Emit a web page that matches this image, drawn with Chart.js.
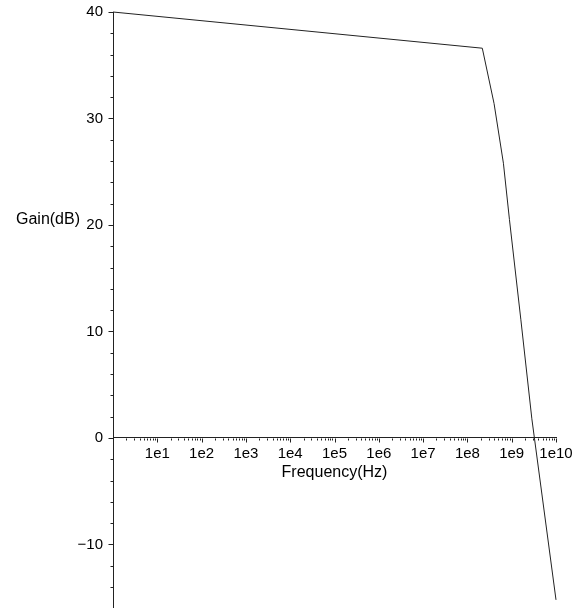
<!DOCTYPE html>
<html>
<head>
<meta charset="utf-8">
<script src="https://cdn.jsdelivr.net/npm/chart.js@4/dist/chart.umd.min.js"></script>
<style>
html,body{margin:0;padding:0;background:#ffffff;}
canvas{display:block;}
</style>
</head>
<body>
<canvas id="c" width="583" height="613"></canvas>
<script>
// ---- data ----
const frequencies = [1, 2.17e8, 4.0e8, 6.5e8, 8.9e8, 1.61e9, 2.85e9, 1e10];
const gains       = [40, 36.6, 31.4, 25.8, 20.5, 11.1, 1.8, -15.2];

// ---- axis ticks ----
const xTickExponents = [0, 1, 2, 3, 4, 5, 6, 7, 8, 9, 10];
const yTickValues = [-14, -12, -10, -8, -6, -4, -2, 0, 2, 4, 6, 8, 10, 12, 14, 16, 18, 20,
                     22, 24, 26, 28, 30, 32, 34, 36, 38, 40];
const yLabeledValues = [-10, 0, 10, 20, 30, 40];
const xAxisTitle = 'Frequency(Hz)';
const yAxisTitle = 'Gain(dB)';

const FONT = "'Liberation Sans', Arial, Helvetica, sans-serif";

function isPowerOfTen(v) {
  const e = Math.round(Math.log10(v));
  return Math.abs(v - Math.pow(10, e)) < 1e-6 * v ? e : null;
}

const tickMarks = {
  id: 'tickMarks',
  afterDraw(chart) {
    const ctx = chart.ctx;
    const xs = chart.scales.x, ys = chart.scales.y;
    const y0 = Math.round(ys.getPixelForValue(0)) + 0.5;
    const x0 = Math.round(chart.chartArea.left) + 0.5;
    ctx.save();
    ctx.strokeStyle = '#222';
    ctx.lineWidth = 1;
    ctx.beginPath();
    xs.ticks.forEach(t => {
      const px = Math.round(xs.getPixelForValue(t.value)) + 0.5;
      const len = isPowerOfTen(t.value) !== null ? 4 : 2;
      ctx.moveTo(px, y0);
      ctx.lineTo(px, y0 + len);
    });
    ys.ticks.forEach(t => {
      const py = Math.round(ys.getPixelForValue(t.value)) + 0.5;
      const len = yLabeledValues.includes(t.value) ? 5 : 3;
      ctx.moveTo(x0, py);
      ctx.lineTo(x0 - len, py);
    });
    ctx.stroke();
    // horizontal y-axis title
    ctx.fillStyle = '#000';
    ctx.font = '16px ' + FONT;
    ctx.textAlign = 'right';
    ctx.textBaseline = 'middle';
    ctx.fillText(yAxisTitle, 80, ys.getPixelForValue(20) - 5);
    ctx.restore();
  }
};

new Chart(document.getElementById('c'), {
  type: 'line',
  data: {
    datasets: [{
      data: frequencies.map((f, i) => ({x: f, y: gains[i]})),
      borderColor: '#222',
      borderWidth: 1,
      pointRadius: 0,
      tension: 0,
      fill: false,
      clip: false
    }]
  },
  options: {
    responsive: false,
    animation: false,
    devicePixelRatio: 1,
    layout: {padding: {left: 0, right: 27, top: 12, bottom: 6}},
    plugins: {legend: {display: false}, tooltip: {enabled: false}, title: {display: false}},
    scales: {
      x: {
        type: 'logarithmic',
        position: {y: 0},
        min: 1,
        max: 1e10,
        afterBuildTicks: s => {
          const vals = [];
          xTickExponents.forEach(e => {
            if (e < 10) { for (let m = 1; m <= 9; m++) vals.push(m * Math.pow(10, e)); }
            else vals.push(Math.pow(10, e));
          });
          s.ticks = vals.map(v => ({value: v}));
        },
        afterFit: s => { s.height = 0; s.paddingLeft = 0; s.paddingRight = 0; s.paddingTop = 0; s.paddingBottom = 0; },
        grid: {display: true, drawOnChartArea: false, drawTicks: false},
        border: {display: true, color: '#222', width: 1},
        ticks: {
          autoSkip: false, maxRotation: 0, minRotation: 0, padding: 7,
          color: '#000',
          font: {family: FONT, size: 15},
          callback: v => { const e = isPowerOfTen(v); return (e !== null && e > 0) ? '1e' + e : ''; }
        },
        title: {display: true, text: xAxisTitle, color: '#000',
                font: {family: FONT, size: 16}, padding: {top: 0, bottom: -44}}
      },
      y: {
        type: 'linear',
        position: 'left',
        min: -15.87,
        max: 40,
        afterBuildTicks: s => { s.ticks = yTickValues.map(v => ({value: v})); },
        afterFit: s => { s.width = 113; s.paddingTop = 0; s.paddingBottom = 0; },
        grid: {display: true, drawOnChartArea: false, drawTicks: false},
        border: {display: true, color: '#222', width: 1},
        ticks: {
          padding: 10, color: '#000', autoSkip: false,
          font: {family: FONT, size: 15},
          callback: v => yLabeledValues.includes(v) ? (v < 0 ? '\u2212' + Math.abs(v) : String(v)) : ''
        }
      }
    }
  },
  plugins: [tickMarks]
});
</script>
</body>
</html>
